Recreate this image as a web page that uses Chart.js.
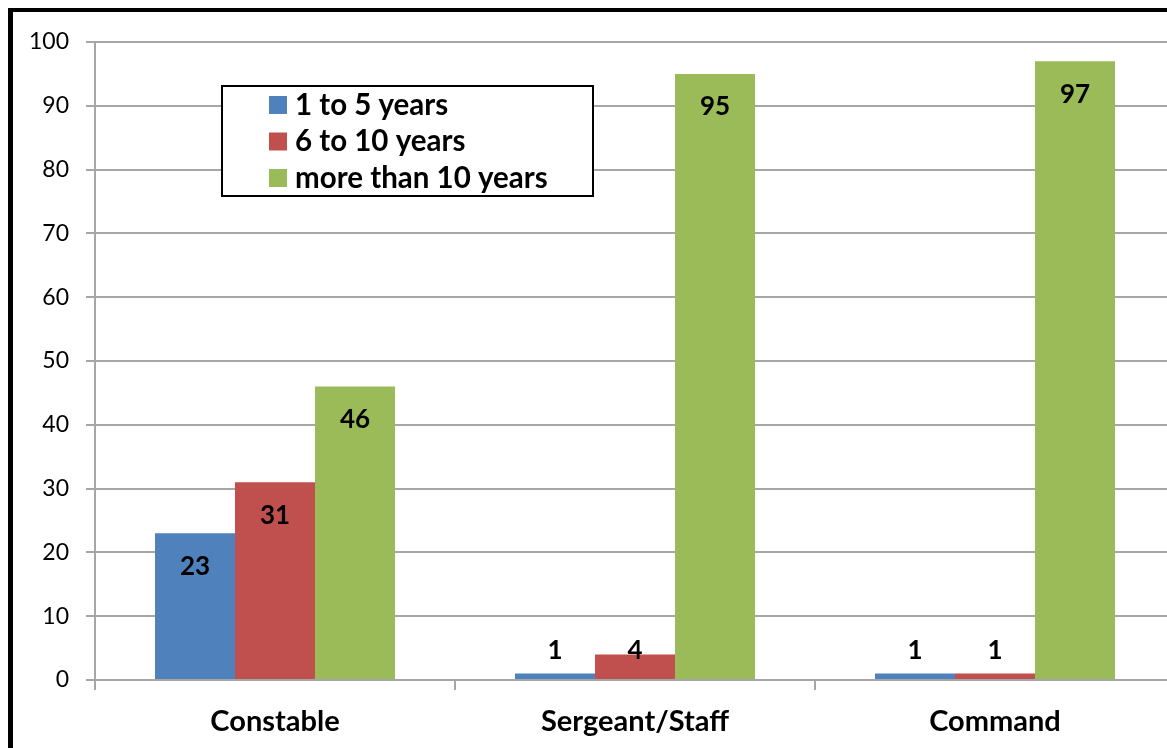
<!DOCTYPE html>
<html>
<head>
<meta charset="utf-8">
<script src="https://cdn.jsdelivr.net/npm/chart.js@4"></script>
<style>
  html, body { margin: 0; padding: 0; background: #fff; overflow: hidden; }
  #wrap { position: absolute; left: 0; top: 0; width: 1190px; height: 748px; }
</style>
</head>
<body>
<div id="wrap"><canvas id="chart" width="1190" height="748"></canvas></div>
<script>
const categories = ['Constable', 'Sergeant/Staff', 'Command'];
const seriesNames = ['1 to 5 years', '6 to 10 years', 'more than 10 years'];
const shortService = [23, 1, 1];
const midService = [31, 4, 1];
const longService = [46, 95, 97];
const seriesColors = ['#4F81BD', '#C0504D', '#9BBB59'];
const yTicks = [0, 10, 20, 30, 40, 50, 60, 70, 80, 90, 100];

const gridGray = '#a6a6a6';

// frame, legend box and value labels
const extras = {
    id: 'extras',
    beforeDraw(chart) {
        const ctx = chart.ctx;
        ctx.save();
        ctx.fillStyle = '#fff';
        ctx.fillRect(0, 0, chart.width, chart.height);
        ctx.restore();
    },
    afterDraw(chart) {
        const ctx = chart.ctx;
        ctx.save();

        // value labels
        ctx.font = 'bold 26px Lato';
        ctx.fillStyle = '#000';
        ctx.textAlign = 'center';
        ctx.textBaseline = 'middle';
        chart.data.datasets.forEach((ds, i) => {
            chart.getDatasetMeta(i).data.forEach((bar, j) => {
                const y = Math.min(bar.y + 33, 651);
                ctx.fillText(String(ds.data[j]), bar.x, y);
            });
        });

        // legend
        ctx.fillStyle = '#fff';
        ctx.fillRect(222, 86, 371, 110);
        ctx.strokeStyle = '#000';
        ctx.lineWidth = 2;
        ctx.strokeRect(222, 86, 371, 110);
        ctx.font = 'bold 29.5px Lato';
        ctx.textAlign = 'left';
        chart.data.datasets.forEach((ds, i) => {
            const cy = 105 + i * 36.5;
            ctx.fillStyle = ds.backgroundColor;
            ctx.fillRect(269, cy - 9, 18, 18);
            ctx.fillStyle = '#000';
            ctx.fillText(ds.label, 295, cy);
        });

        // outer frame (left and top edges)
        ctx.fillStyle = '#000';
        ctx.fillRect(8, 8, 5, chart.height);
        ctx.fillRect(8, 8, chart.width, 4);
        ctx.restore();
    }
};

new Chart(document.getElementById('chart'), {
    type: 'bar',
    data: {
        labels: categories,
        datasets: [
            { label: seriesNames[0], data: shortService, backgroundColor: seriesColors[0] },
            { label: seriesNames[1], data: midService, backgroundColor: seriesColors[1] },
            { label: seriesNames[2], data: longService, backgroundColor: seriesColors[2] }
        ]
    },
    options: {
        responsive: false,
        devicePixelRatio: 1,
        animation: false,
        layout: { padding: { top: 42, right: 15, left: 0, bottom: 0 } },
        datasets: { bar: { categoryPercentage: 240 / 360, barPercentage: 1, borderWidth: 0 } },
        plugins: { legend: { display: false }, tooltip: { enabled: false } },
        scales: {
            x: {
                grid: { offset: true, drawOnChartArea: false, drawTicks: true, tickLength: 10, color: gridGray, lineWidth: 2 },
                border: { color: gridGray, width: 2 },
                ticks: { color: '#000', font: { family: 'Lato', size: 29, weight: 'bold' }, padding: 14 },
                afterFit(scale) { scale.height = 68; }
            },
            y: {
                min: 0,
                max: 100,
                afterBuildTicks(scale) { scale.ticks = yTicks.map(v => ({ value: v })); },
                grid: { color: gridGray, lineWidth: 2, tickLength: 9 },
                border: { color: gridGray, width: 2 },
                ticks: { color: '#000', font: { family: 'Lato', size: 23 }, padding: 17 },
                afterFit(scale) { scale.width = 95; }
            }
        }
    },
    plugins: [extras]
});
</script>
</body>
</html>
